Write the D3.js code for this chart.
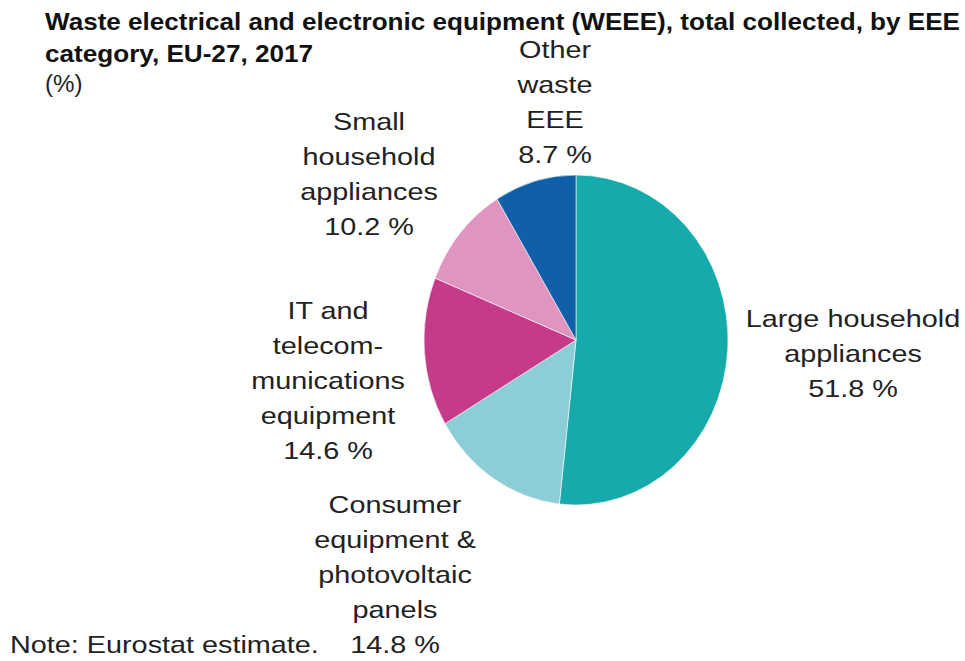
<!DOCTYPE html>
<html>
<head>
<meta charset="utf-8">
<script src="https://cdn.jsdelivr.net/npm/d3@7"></script>
<style>
  html, body { margin: 0; padding: 0; background: #fff; }
  svg { display: block; font-family: "Liberation Sans", Arial, sans-serif; }
</style>
</head>
<body>
<svg id="chart" width="965" height="661"></svg>
<script>
// WEEE collected by EEE category, EU-27, 2017 (%)
const categories = [
  "Large household appliances",
  "Consumer equipment & photovoltaic panels",
  "IT and telecommunications equipment",
  "Small household appliances",
  "Other waste EEE"
];
const shares = [51.8, 14.8, 14.6, 10.2, 8.7];
const colours = ["#17aaab", "#8ccdd6", "#c63a8a", "#df95c0", "#0f60a8"];

// label text split the way the original wraps it
const labelLines = [
  ["Large household", "appliances"],
  ["Consumer", "equipment &", "photovoltaic", "panels"],
  ["IT and", "telecom-", "munications", "equipment"],
  ["Small", "household", "appliances"],
  ["Other", "waste", "EEE"]
];
// label anchor: centre x and baseline of first line
const labelPos = [
  { x: 853, y: 327 },
  { x: 395, y: 513 },
  { x: 328, y: 319 },
  { x: 369, y: 130 },
  { x: 555, y: 58 }
];

const svg = d3.select("#chart");
const cx = 576, cy = 340, ry = 165, rx = 152;
const LINE = 35;
const STRETCH = 1.2; // text in the source is drawn wide

// Title
const title = svg.append("g").attr("font-weight", "bold").attr("fill", "#111");
title.append("text")
  .attr("x", 45).attr("y", 29.5)
  .attr("font-size", 24)
  .attr("textLength", 915).attr("lengthAdjust", "spacingAndGlyphs")
  .text("Waste electrical and electronic equipment (WEEE), total collected, by EEE");
title.append("text")
  .attr("x", 45).attr("y", 61.5)
  .attr("font-size", 24)
  .attr("textLength", 268).attr("lengthAdjust", "spacingAndGlyphs")
  .text("category, EU-27, 2017");

svg.append("g")
  .attr("transform", "translate(45,0) scale(1.05,1)")
  .append("text")
  .attr("x", 0).attr("y", 92)
  .attr("font-size", 23)
  .attr("fill", "#222")
  .text("(%)");

// Pie (slightly narrower than tall, like the source)
const pie = d3.pie().sort(null).value(d => d)(shares);
const arc = d3.arc().innerRadius(0).outerRadius(ry);

svg.append("g")
  .attr("transform", `translate(${cx},${cy}) scale(${rx / ry},1)`)
  .selectAll("path")
  .data(pie)
  .join("path")
  .attr("d", arc)
  .attr("fill", (d, i) => colours[i])
  .attr("stroke", "#fff")
  .attr("stroke-width", 0.6);

// Labels
labelLines.forEach((lines, i) => {
  const g = svg.append("g")
    .attr("transform", `translate(${labelPos[i].x},0) scale(${STRETCH},1)`);
  const all = lines.concat([d3.format(".1f")(shares[i]) + " %"]);
  all.forEach((t, j) => {
    g.append("text")
      .attr("x", 0)
      .attr("y", labelPos[i].y + j * LINE)
      .attr("text-anchor", "middle")
      .attr("font-size", 24)
      .attr("fill", "#222")
      .text(t);
  });
});

// Note
svg.append("g")
  .attr("transform", `translate(10,0) scale(${STRETCH},1)`)
  .append("text")
  .attr("x", 0).attr("y", 653)
  .attr("font-size", 24)
  .attr("fill", "#222")
  .text("Note: Eurostat estimate.");
</script>
</body>
</html>
